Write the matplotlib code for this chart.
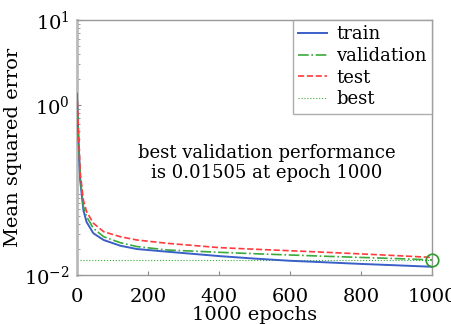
import matplotlib
matplotlib.use("Agg")
import matplotlib.pyplot as plt
from matplotlib.ticker import LogLocator, NullFormatter

epochs = [0, 4, 9, 18, 27, 46, 75, 122, 169, 254, 400, 500, 600, 700, 800, 900, 1000]
train = [1.3, 0.4, 0.13, 0.058, 0.042, 0.031, 0.0258, 0.0221, 0.0202, 0.0188, 0.0167,
         0.0156, 0.0147, 0.0141, 0.0135, 0.0130, 0.0125]
validation = [1.3, 0.45, 0.14, 0.064, 0.0486, 0.0355, 0.0282, 0.0240, 0.0216, 0.0197, 0.0185,
              0.0178, 0.0172, 0.0166, 0.0161, 0.0156, 0.01505]
test = [1.4, 0.5, 0.16, 0.076, 0.0556, 0.0407, 0.0323, 0.0282, 0.0258, 0.0236, 0.0210,
        0.0201, 0.0193, 0.0185, 0.0177, 0.0169, 0.0161]
best_epoch = 1000
best_value = 0.01505
ytick_vals = [1e-2, 1e0, 1e1]
ytick_labels = [r"$10^{-2}$", r"$10^{0}$", r"$10^{1}$"]
xtick_vals = [0, 200, 400, 600, 800, 1000]

plt.rcParams["font.family"] = ["DejaVu Serif"]
plt.rcParams["mathtext.fontset"] = "dejavuserif"

fig = plt.figure(figsize=(4.51, 3.24), dpi=100)
ax = fig.add_axes([77 / 451, 1 - 275 / 324, (432 - 77) / 451, (275 - 20) / 324])

ax.plot(epochs, train, color="#3a5fc8", lw=1.4, label="train", zorder=3)
ax.plot(epochs, validation, color="#3aaa3a", lw=1.2, ls="-.", label="validation", zorder=3)
ax.plot(epochs, test, color="#ff3b3b", lw=1.2, ls="--", label="test", zorder=3)
ax.axhline(best_value, color="#3aaa3a", lw=0.8, ls=":", label="best", zorder=2)
ax.plot([best_epoch], [best_value], marker="o", ms=9, mfc="none", mec="#2e9a2e", mew=1.2,
        ls="none", clip_on=False, zorder=4)

ax.set_yscale("log")
ax.set_ylim(1e-2, 1e1)
ax.set_xlim(0, 1000)
ax.set_yticks(ytick_vals)
ax.set_yticklabels(ytick_labels)
ax.yaxis.set_minor_locator(LogLocator(base=10, subs=range(2, 10), numticks=20))
ax.yaxis.set_minor_formatter(NullFormatter())
ax.set_xticks(xtick_vals)
ax.set_xticklabels([str(v) for v in xtick_vals])

ax.tick_params(axis="both", which="both", direction="in", labelsize=14, colors="#888888",
               labelcolor="black")
ax.tick_params(axis="x", which="major", length=3, pad=9)
ax.tick_params(axis="y", which="major", length=3, pad=5)
ax.tick_params(which="minor", length=2, width=0.6)
for s in ax.spines.values():
    s.set_color("#999999")
    s.set_linewidth(1.0)
ax.spines["left"].set_linewidth(2.0)
ax.spines["left"].set_color("#bbbbbb")

ax.set_xlabel("1000 epochs", fontsize=14, labelpad=0)
ax.set_ylabel("Mean squared error", fontsize=14, labelpad=2)

ax.text(535, 0.21, "best validation performance\nis 0.01505 at epoch 1000", ha="center",
        va="center", fontsize=13, linespacing=1.15)

leg = ax.legend(loc="upper right", fontsize=13, frameon=True, fancybox=False,
                borderaxespad=0, handlelength=1.6, handletextpad=0.5, labelspacing=0.2,
                borderpad=0.3)
leg.get_frame().set_edgecolor("#999999")
leg.get_frame().set_linewidth(1.0)

fig.savefig("out.png", dpi=100)
